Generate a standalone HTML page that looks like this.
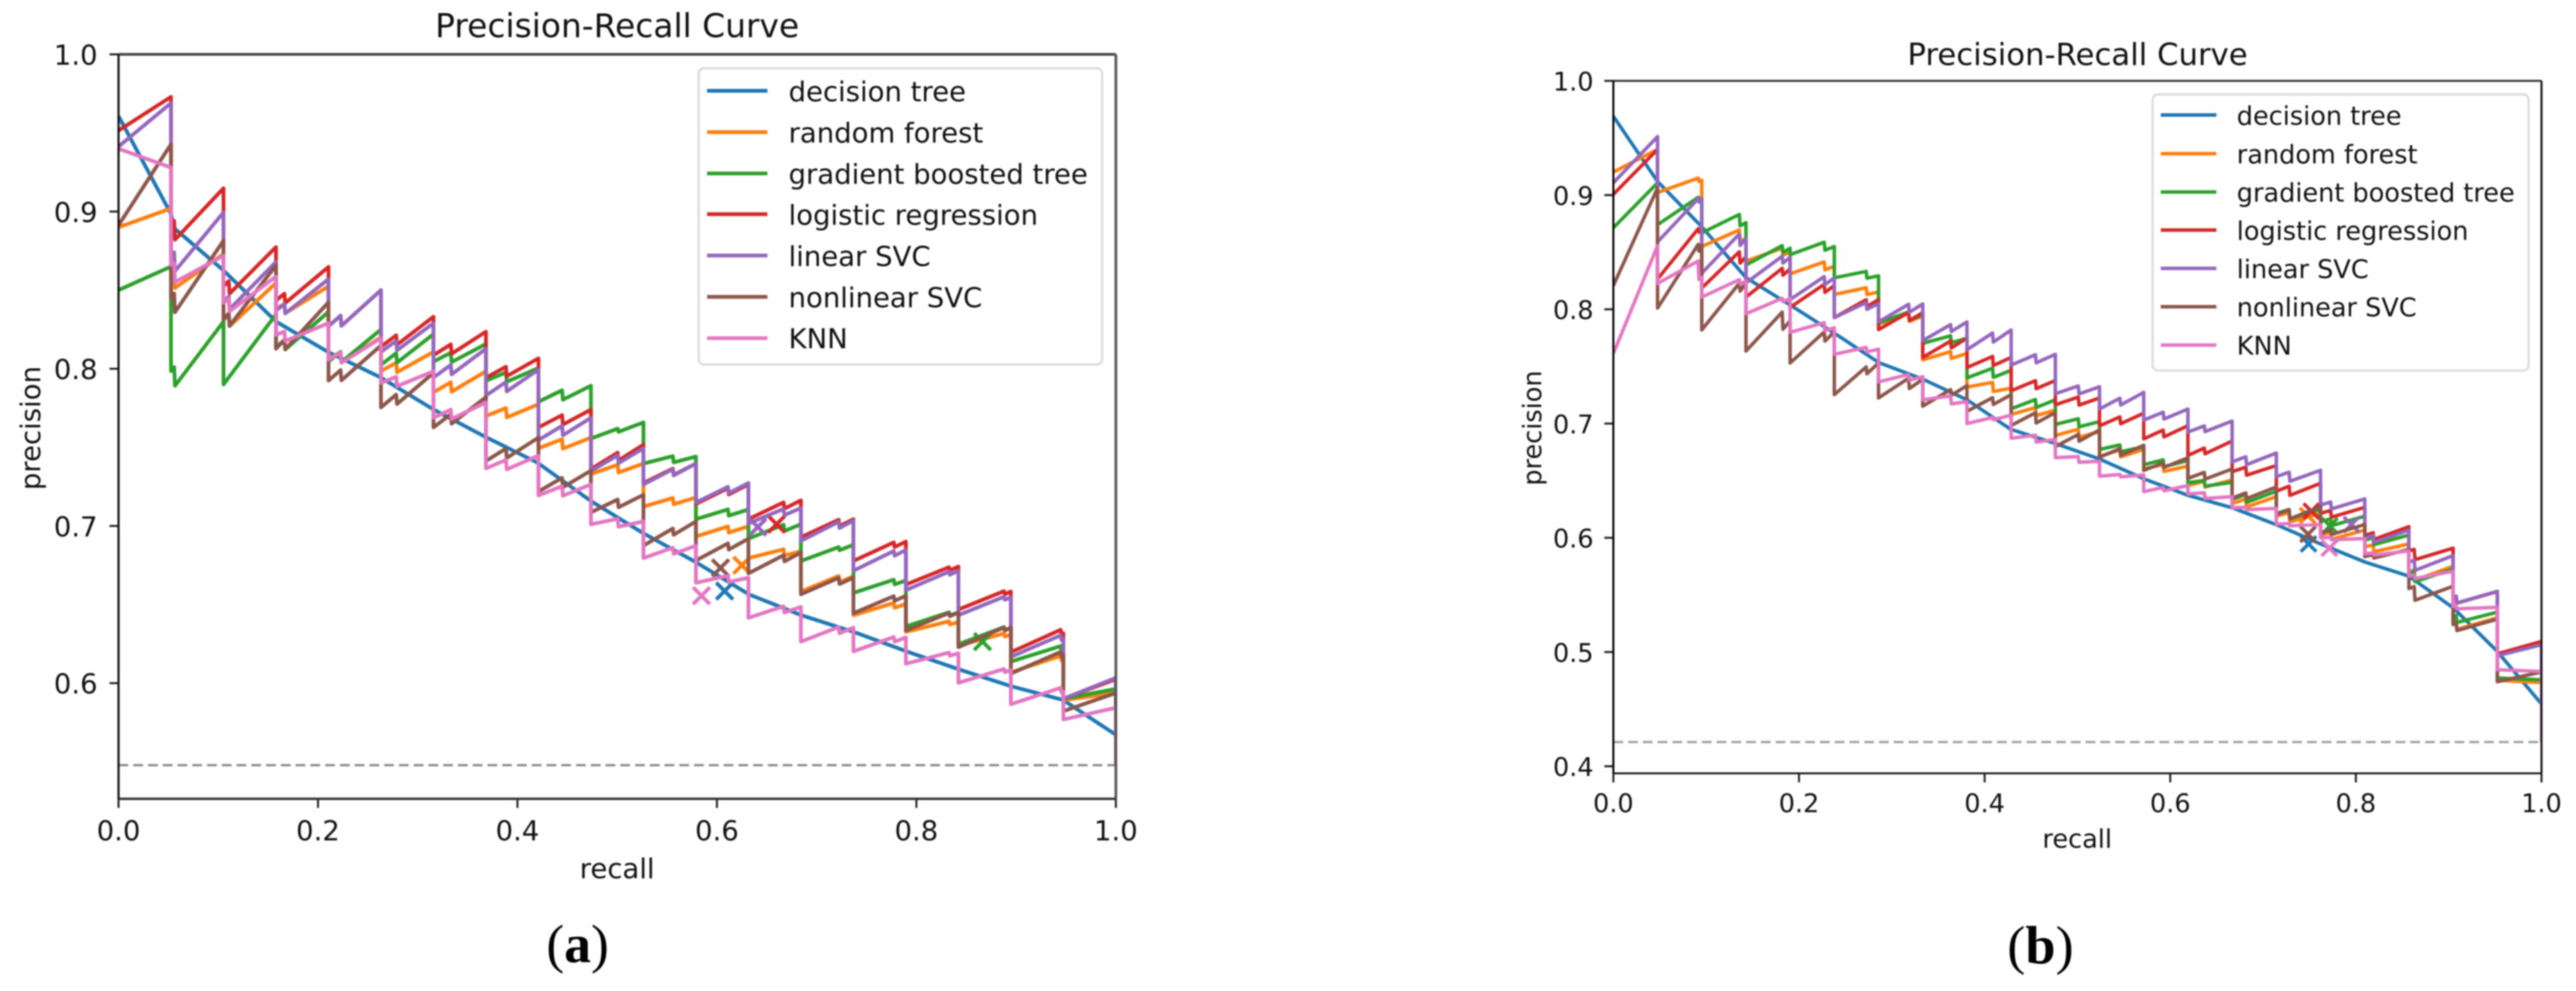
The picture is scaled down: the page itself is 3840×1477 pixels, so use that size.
<!DOCTYPE html>
<html lang="en">
<head>
<meta charset="utf-8">
<title>Precision-Recall Curves</title>
<style>
html,body{margin:0;padding:0;background:#fff;width:3840px;height:1477px;overflow:hidden}
svg{display:block;filter:blur(1.1px)}
text{font-family:"DejaVu Sans","Liberation Sans",sans-serif;fill:#111}
.cap{font-family:"Liberation Serif",serif;fill:#000}
</style>
</head>
<body>
<svg id="figure" xmlns="http://www.w3.org/2000/svg" width="3840" height="1477" viewBox="0 0 3840 1477">
  <defs>
    <clipPath id="clip-a"><rect x="176.7" y="81" width="1486.7" height="1109.6"/></clipPath>
    <clipPath id="clip-b"><rect x="2405" y="120.5" width="1383.6" height="1032.1"/></clipPath>
  </defs>
  <rect x="0" y="0" width="3840" height="1477" fill="#fff"/>

  <g id="chart-a">
    <text x="920" y="55.5" font-size="49" text-anchor="middle">Precision-Recall Curve</text>
    <g id="plot-a" clip-path="url(#clip-a)"></g>
    <g id="ticks-a"></g>
    <text x="920" y="1309" font-size="41" text-anchor="middle">recall</text>
    <text transform="translate(60,638) rotate(-90)" font-size="41" text-anchor="middle">precision</text>
    <g fill="none">
      <line x1="176.7" y1="81" x2="1663.4" y2="81" stroke="#444" stroke-width="4"/>
      <line x1="1663.4" y1="81" x2="1663.4" y2="1190.6" stroke="#555" stroke-width="4"/>
      <line x1="176.7" y1="1190.6" x2="1663.4" y2="1190.6" stroke="#333" stroke-width="3.6"/>
      <line x1="176.7" y1="81" x2="176.7" y2="1190.6" stroke="#111" stroke-width="3.2"/>
    </g>
    <g>
      <rect x="1041.6" y="101.8" width="601.4" height="441.5" rx="8" fill="#fff" stroke="#dcdcdc" stroke-width="3.5"/>
      <g><line x1="1054" y1="135.3" x2="1144" y2="135.3" stroke="#1f77b4" stroke-width="5.6"/><text x="1175.5" y="151" font-size="41">decision tree</text></g>
      <g><line x1="1054" y1="196.9" x2="1144" y2="196.9" stroke="#ff7f0e" stroke-width="5.6"/><text x="1175.5" y="212.5" font-size="41">random forest</text></g>
      <g><line x1="1054" y1="258.5" x2="1144" y2="258.5" stroke="#2ca02c" stroke-width="5.6"/><text x="1175.5" y="274" font-size="41">gradient boosted tree</text></g>
      <g><line x1="1054" y1="319.2" x2="1144" y2="319.2" stroke="#d62728" stroke-width="5.6"/><text x="1175.5" y="335" font-size="41">logistic regression</text></g>
      <g><line x1="1054" y1="380.8" x2="1144" y2="380.8" stroke="#9467bd" stroke-width="5.6"/><text x="1175.5" y="396.5" font-size="41">linear SVC</text></g>
      <g><line x1="1054" y1="442.4" x2="1144" y2="442.4" stroke="#8c564b" stroke-width="5.6"/><text x="1175.5" y="458" font-size="41">nonlinear SVC</text></g>
      <g><line x1="1054" y1="504" x2="1144" y2="504" stroke="#e377c2" stroke-width="5.6"/><text x="1175.5" y="519" font-size="41">KNN</text></g>
    </g>
    <text class="cap" x="861" y="1434" font-size="80" text-anchor="middle">(<tspan font-weight="bold">a</tspan>)</text>
  </g>

  <g id="chart-b">
    <text x="3097" y="97" font-size="45.8" text-anchor="middle">Precision-Recall Curve</text>
    <g id="plot-b" clip-path="url(#clip-b)"></g>
    <g id="ticks-b"></g>
    <text x="3096.5" y="1263.5" font-size="38.1" text-anchor="middle">recall</text>
    <text transform="translate(2297.5,638) rotate(-90)" font-size="38.1" text-anchor="middle">precision</text>
    <g fill="none">
      <line x1="2405" y1="120.5" x2="3788.6" y2="120.5" stroke="#333" stroke-width="3"/>
      <line x1="3788.6" y1="120.5" x2="3788.6" y2="1152.6" stroke="#111" stroke-width="3"/>
      <line x1="2405" y1="1152.6" x2="3788.6" y2="1152.6" stroke="#111" stroke-width="2.8"/>
      <line x1="2405" y1="120.5" x2="2405" y2="1152.6" stroke="#000" stroke-width="3"/>
    </g>
    <g>
      <rect x="3208.9" y="140.6" width="560.4" height="411.6" rx="8" fill="#fff" stroke="#dcdcdc" stroke-width="3.5"/>
      <g><line x1="3221" y1="171.4" x2="3304" y2="171.4" stroke="#1f77b4" stroke-width="5.2"/><text x="3334.3" y="186" font-size="38.1">decision tree</text></g>
      <g><line x1="3221" y1="229" x2="3304" y2="229" stroke="#ff7f0e" stroke-width="5.2"/><text x="3334.3" y="243.5" font-size="38.1">random forest</text></g>
      <g><line x1="3221" y1="286.2" x2="3304" y2="286.2" stroke="#2ca02c" stroke-width="5.2"/><text x="3334.3" y="300.5" font-size="38.1">gradient boosted tree</text></g>
      <g><line x1="3221" y1="342.9" x2="3304" y2="342.9" stroke="#d62728" stroke-width="5.2"/><text x="3334.3" y="357.5" font-size="38.1">logistic regression</text></g>
      <g><line x1="3221" y1="400" x2="3304" y2="400" stroke="#9467bd" stroke-width="5.2"/><text x="3334.3" y="414.5" font-size="38.1">linear SVC</text></g>
      <g><line x1="3221" y1="457.1" x2="3304" y2="457.1" stroke="#8c564b" stroke-width="5.2"/><text x="3334.3" y="471.5" font-size="38.1">nonlinear SVC</text></g>
      <g><line x1="3221" y1="514.3" x2="3304" y2="514.3" stroke="#e377c2" stroke-width="5.2"/><text x="3334.3" y="528.5" font-size="38.1">KNN</text></g>
    </g>
    <text class="cap" x="3041.7" y="1436" font-size="81" text-anchor="middle">(<tspan font-weight="bold">b</tspan>)</text>
  </g>
</svg>

<script>
// ---------- shared ----------
const seriesNames = ['decision-tree', 'random-forest', 'gradient-boosted-tree', 'logistic-regression', 'linear-svc', 'nonlinear-svc', 'knn'];
const seriesColors = ['#1f77b4', '#ff7f0e', '#2ca02c', '#d62728', '#9467bd', '#8c564b', '#e377c2'];
const xTickValues = [0, 0.2, 0.4, 0.6, 0.8, 1];
const xTickLabels = ['0.0', '0.2', '0.4', '0.6', '0.8', '1.0'];

// ---------- chart (a) data ----------
const aTeeth = 19;
const aPositiveRate = [0.5478];
const aYTickValues = [0.6, 0.7, 0.8, 0.9, 1];
const aYTickLabels = ['0.6', '0.7', '0.8', '0.9', '1.0'];
const aNotchFrac = [0, .06, .1, .16, .23, .29, .33, .38, .45, .51, .56, .61, .67, .72, .77, .82, .87, .95, 0];
const aNotchDepth = [0, .012, .008, .006, .0065, .006, .006, .006, .006, .005, .004, .004, .004, .004, .003, .002, .002, .003, 0];
const aBoostNotch = [0, .012, 0, .006, .0065, .006, .006, .006, .006, .002, .004, .004, .004, .002, .003, .002, .002, .003, 0];
const aTreeRecall = [0, .0526, .056, .105, .158, .21, .263, .316, .368, .42, .474, .526, .579, .632, .6846, .737, .79, .843, .895, .947, 1];
const aTreePrecision = [.9607, .8985, .8893, .8627, .83, .8107, .7944, .774, .7566, .7403, .7157, .6954, .6769, .6565, .6432, .6326, .6202, .6087, .598, .5893, .5671];
const aForestStart = [.89, .862, .832, .838, .806, .7985, .785, .7699, .7494, .733, .7123, .6933, .6795, .6583, .6432, .6326, .6238, .6069, .5892];
const aForestEnd = [.902, .873, .8546, .8525, .82, .8107, .7984, .7774, .7562, .7397, .7181, .6998, .6839, .668, .6503, .6388, .6308, .6149, .5937];
const aBoostStart = [.85, .7985, .79, .8137, .8045, .8025, .8045, .7923, .779, .7556, .7397, .7043, .6919, .6777, .6574, .6361, .6247, .6137, .5901];
const aBoostEnd = [.865, .83, .8346, .8362, .825, .822, .8158, .8005, .7892, .7659, .7441, .7105, .7011, .688, .6653, .645, .6353, .6211, .5963];
const aLogisticStart = [.9515, .892, .8525, .8434, .827, .814, .8086, .7943, .7627, .7362, .7273, .714, .7043, .6928, .6777, .6627, .6468, .6197, .5901];
const aLogisticEnd = [.973, .9148, .8774, .8648, .85, .8331, .8236, .8066, .774, .7517, .7397, .7264, .7163, .7043, .6901, .6742, .6583, .6317, .6025];
const aLinearStart = [.9413, .8717, .8425, .837, .827, .8107, .7944, .783, .7546, .735, .7264, .7149, .7016, .6905, .6715, .6592, .6432, .6167, .5901];
const aLinearEnd = [.969, .8995, .868, .857, .85, .829, .8127, .7995, .7688, .7494, .7397, .7273, .7114, .7034, .6848, .6715, .6547, .6282, .6034];
const aNonlinearStart = [.8913, .845, .831, .8127, .7925, .7754, .7627, .7413, .7219, .7086, .6875, .678, .6698, .6565, .6445, .6335, .6229, .6061, .5822];
const aNonlinearEnd = [.9428, .8815, .8658, .8423, .8148, .7974, .782, .7562, .7352, .7198, .7029, .6919, .6831, .6671, .6556, .645, .6353, .6176, .5937];
const aKnnStart = [.94, .866, .842, .8215, .8056, .791, .7688, .7366, .7194, .701, .6795, .6639, .6415, .6264, .6202, .6123, .6002, .5866, .5769];
const aKnnEnd = [.928, .872, .8587, .829, .8195, .7984, .7786, .7447, .7264, .7029, .6875, .6671, .6485, .6353, .6291, .619, .6083, .5946, .5843];
const aMarkerRecall = [.6077, .625, .8663, .6598, .641, .6036, .5845];
const aMarkerPrecision = [.6586, .675, .6264, .7011, .6993, .6733, .6556];

// ---------- chart (b) data ----------
const bTeeth = 21;
const bPositiveRate = [0.4212];
const bYTickValues = [0.4, 0.5, 0.6, 0.7, 0.8, 0.9, 1];
const bYTickLabels = ['0.4', '0.5', '0.6', '0.7', '0.8', '0.9', '1.0'];
const bNotchFrac = [0, .92, .85, .82, .77, .72, .68, .63, .58, .55, .52, .46, .44, .37, .31, .29, .23, .19, .12, .07, 0];
const bNotchDepth = [0, .003, .01, .006, .007, .006, .007, .006, .008, .007, .007, .006, .006, .005, .007, .008, .006, .006, .009, .006, 0];
const bNonlinearNotch = [0, .006, .007, .015, .008, .006, .009, .005, .006, .009, .006, .006, .004, .006, .005, .008, .004, .003, .012, .006, 0];
const bKnnNotch = [0, .016, .004, .003, .007, .004, .005, .007, .002, .006, .005, .002, .003, .005, .002, .002, .002, .002, .003, .002, 0];
const bTreeRecall = [0, .0476, .095, .143, .19, .238, .286, .3335, .381, .428, .476, .524, .571, .619, .667, .714, .762, .81, .857, .905, .952, 1];
const bTreePrecision = [.969, .9119, .8725, .8276, .804, .7792, .7534, .7388, .7208, .695, .6826, .6689, .6518, .6372, .6262, .6116, .5946, .5787, .5665, .5386, .5008, .4545];
const bForestStart = [.9202, .9022, .855, .8422, .831, .813, .787, .7557, .732, .708, .6896, .6713, .6603, .6457, .6299, .619, .6024, .5921, .5702, .5251, .4752];
const bForestEnd = [.94, .913, .862, .85, .8377, .8152, .794, .7613, .731, .7118, .693, .6774, .6628, .6506, .636, .6214, .6067, .5946, .5751, .53, .4733];
const bBoostStart = [.8714, .874, .8669, .8388, .8478, .8276, .7882, .7702, .74, .7129, .6993, .6774, .664, .6482, .6335, .6214, .6141, .598, .569, .5312, .4772];
const bBoostEnd = [.9107, .8972, .8759, .8535, .855, .8294, .795, .7747, .7466, .7208, .7017, .6798, .6676, .6486, .6408, .625, .6189, .6024, .5727, .5349, .4757];
const bLogisticStart = [.9006, .8265, .8186, .8107, .8017, .7927, .7822, .7579, .749, .7287, .7164, .698, .6866, .672, .6579, .6408, .6214, .6019, .5885, .548, .4984];
const bLogisticEnd = [.94, .8714, .846, .8354, .8208, .8085, .7972, .7747, .7579, .7377, .7224, .709, .6981, .6847, .6633, .6477, .6267, .6097, .5909, .553, .5093];
const bLinearStart = [.9107, .859, .8316, .8231, .8085, .7927, .789, .7725, .7646, .7512, .7261, .7127, .703, .6925, .6664, .6535, .6287, .5995, .5787, .5482, .4967];
const bLinearEnd = [.9512, .8972, .862, .8456, .8276, .8051, .8047, .7889, .7819, .7606, .7322, .7273, .7127, .7022, .6742, .6591, .634, .6067, .5844, .5532, .5064];
const bNonlinearStart = [.8208, .8011, .782, .7635, .753, .7253, .7224, .7152, .7107, .6983, .6798, .6705, .659, .652, .6347, .6202, .6043, .5836, .5556, .524, .474];
const bNonlinearEnd = [.9062, .8557, .8231, .79, .7803, .753, .7388, .7332, .7253, .7096, .6944, .681, .67, .6603, .6445, .6274, .6116, .5898, .5576, .5288, .4825];
const bKnnStart = [.7613, .8226, .8107, .7961, .7799, .7606, .7365, .7208, .7, .6871, .6701, .654, .6404, .6384, .6262, .612, .6, .586, .5665, .5398, .4845];
const bKnnEnd = [.8557, .828, .8247, .8096, .7838, .7651, .741, .7192, .7073, .686, .667, .655, .6457, .636, .6257, .6116, .5994, .5885, .5707, .5391, .483];
const bMarkerRecall = [.749, .748, .772, .752, .7952, .7485, .7714];
const bMarkerPrecision = [.5946, .6195, .6104, .6233, .6116, .6031, .5909];

// ---------- drawing ----------
const SVG_NS = 'http://www.w3.org/2000/svg';

function make(tag, attrs) {
  const el = document.createElementNS(SVG_NS, tag);
  Object.keys(attrs).forEach(function (k) { el.setAttribute(k, attrs[k]); });
  return el;
}

function toothPoints(starts, ends, fracs, depths, teeth, positiveRate) {
  const pts = [];
  for (let k = 0; k < teeth; k++) {
    const w = 1 / teeth;
    const r0 = k * w;
    const s = starts[k];
    const e = ends[k];
    const d = depths[k];
    const f = fracs[k];
    pts.push([r0, s]);
    if (d > 0) {
      const peak = s + f * (e - s + d);
      pts.push([r0 + f * w, peak]);
      pts.push([r0 + f * w + 0.0008, peak - d]);
    }
    pts.push([r0 + w, e]);
  }
  pts.push([1, positiveRate]);
  return pts;
}

function drawChart(cfg) {
  const xScale = function (r) { return cfg.x0 + r * (cfg.x1 - cfg.x0); };
  const yScale = function (p) { return cfg.y1 - (p - cfg.pMin) / (1 - cfg.pMin) * (cfg.y1 - cfg.y0); };
  const plot = document.getElementById(cfg.plotId);
  const ticks = document.getElementById(cfg.ticksId);

  // baseline
  const base = make('line', {
    x1: xScale(0), x2: xScale(1), y1: yScale(cfg.positiveRate), y2: yScale(cfg.positiveRate),
    stroke: cfg.dashColor, 'stroke-width': 3.4, 'stroke-dasharray': '14.5 7.5'
  });
  
  
  plot.appendChild(base);

  // curves and markers
  cfg.curves.forEach(function (pts, i) {
    const d = pts.map(function (p, j) {
      return (j ? 'L' : 'M') + xScale(p[0]).toFixed(1) + ' ' + yScale(p[1]).toFixed(1);
    }).join('');
    const line = make('path', {
      d: d, fill: 'none', stroke: seriesColors[i], 'stroke-width': cfg.lineWidth, 'stroke-linejoin': 'round'
    });
    
    
    plot.appendChild(line);

    const mx = xScale(cfg.markerRecall[i]);
    const my = yScale(cfg.markerPrecision[i]);
    const h = cfg.markerHalf;
    const mark = make('path', {
      d: 'M' + (mx - h) + ' ' + (my - h) + 'L' + (mx + h) + ' ' + (my + h) + 'M' + (mx - h) + ' ' + (my + h) + 'L' + (mx + h) + ' ' + (my - h),
      fill: 'none', stroke: seriesColors[i], 'stroke-width': cfg.lineWidth
    });
    
    
    plot.appendChild(mark);
  });

  // x ticks
  xTickValues.forEach(function (v, i) {
    const tick = make('line', {
      x1: xScale(v), x2: xScale(v), y1: cfg.y1, y2: cfg.y1 + cfg.tickLen, stroke: '#222', 'stroke-width': 3
    });
    
    
    ticks.appendChild(tick);
    const label = make('text', {
      x: xScale(v), y: cfg.xLabelY, 'font-size': cfg.tickFont, 'text-anchor': 'middle'
    });
    label.textContent = xTickLabels[i];
    
    
    ticks.appendChild(label);
  });

  // y ticks
  cfg.yTickValues.forEach(function (v, i) {
    const tick = make('line', {
      x1: cfg.x0 - cfg.tickLen, x2: cfg.x0, y1: yScale(v), y2: yScale(v), stroke: '#222', 'stroke-width': 3
    });
    
    
    ticks.appendChild(tick);
    const label = make('text', {
      x: cfg.yLabelX, y: yScale(v) + cfg.yLabelDy, 'font-size': cfg.tickFont, 'text-anchor': 'end'
    });
    label.textContent = cfg.yTickLabels[i];
    
    
    ticks.appendChild(label);
  });
}

function treeCurve(recall, precision, positiveRate) {
  const pts = recall.map(function (r, i) { return [r, precision[i]]; });
  pts.push([1, positiveRate]);
  return pts;
}

drawChart({
  plotId: 'plot-a', ticksId: 'ticks-a',
  x0: 176.7, x1: 1663.4, y0: 81, y1: 1190.6, pMin: 0.5264,
  positiveRate: aPositiveRate[0], dashColor: '#8a8a8a',
  lineWidth: 5.6, markerHalf: 12.5, tickLen: 13.5, tickFont: 41,
  xLabelY: 1252.5, yLabelX: 145.5, yLabelDy: 15.5,
  yTickValues: aYTickValues, yTickLabels: aYTickLabels,
  markerRecall: aMarkerRecall, markerPrecision: aMarkerPrecision,
  curves: [
    treeCurve(aTreeRecall, aTreePrecision, aPositiveRate[0]),
    toothPoints(aForestStart, aForestEnd, aNotchFrac, aNotchDepth, aTeeth, aPositiveRate[0]),
    toothPoints(aBoostStart, aBoostEnd, aNotchFrac, aBoostNotch, aTeeth, aPositiveRate[0]),
    toothPoints(aLogisticStart, aLogisticEnd, aNotchFrac, aNotchDepth, aTeeth, aPositiveRate[0]),
    toothPoints(aLinearStart, aLinearEnd, aNotchFrac, aNotchDepth, aTeeth, aPositiveRate[0]),
    toothPoints(aNonlinearStart, aNonlinearEnd, aNotchFrac, aNotchDepth, aTeeth, aPositiveRate[0]),
    toothPoints(aKnnStart, aKnnEnd, aNotchFrac, aNotchDepth, aTeeth, aPositiveRate[0])
  ]
});

drawChart({
  plotId: 'plot-b', ticksId: 'ticks-b',
  x0: 2405, x1: 3788.6, y0: 120.5, y1: 1152.6, pMin: 0.3938,
  positiveRate: bPositiveRate[0], dashColor: '#a0a0a0',
  lineWidth: 5.2, markerHalf: 11.5, tickLen: 13.5, tickFont: 38.1,
  xLabelY: 1210.5, yLabelX: 2375.5, yLabelDy: 14.5,
  yTickValues: bYTickValues, yTickLabels: bYTickLabels,
  markerRecall: bMarkerRecall, markerPrecision: bMarkerPrecision,
  curves: [
    treeCurve(bTreeRecall, bTreePrecision, bPositiveRate[0]),
    toothPoints(bForestStart, bForestEnd, bNotchFrac, bNotchDepth, bTeeth, bPositiveRate[0]),
    toothPoints(bBoostStart, bBoostEnd, bNotchFrac, bNotchDepth, bTeeth, bPositiveRate[0]),
    toothPoints(bLogisticStart, bLogisticEnd, bNotchFrac, bNotchDepth, bTeeth, bPositiveRate[0]),
    toothPoints(bLinearStart, bLinearEnd, bNotchFrac, bNotchDepth, bTeeth, bPositiveRate[0]),
    toothPoints(bNonlinearStart, bNonlinearEnd, bNotchFrac, bNonlinearNotch, bTeeth, bPositiveRate[0]),
    toothPoints(bKnnStart, bKnnEnd, bNotchFrac, bKnnNotch, bTeeth, bPositiveRate[0])
  ]
});
</script>
</body>
</html>
